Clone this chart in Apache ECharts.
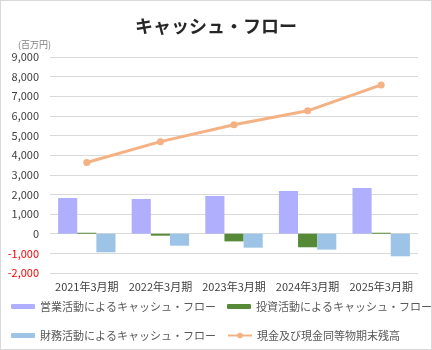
<!DOCTYPE html>
<html><head><meta charset="utf-8">
<script src="https://cdn.jsdelivr.net/npm/echarts@6/dist/echarts.min.js"></script>
<style>
html,body{margin:0;padding:0;background:#fff;}
#wrap{position:absolute;left:0;top:0;width:430px;height:348px;border:1px solid #d9d9d9;}
#c{position:absolute;left:0;top:0;width:432px;height:350px;}
</style></head>
<body><div id="wrap"></div><div id="c"></div>
<script>
const categories = ['2021年3月期','2022年3月期','2023年3月期','2024年3月期','2025年3月期'];
const operating = [1820, 1770, 1920, 2180, 2330];
const investing = [50, -100, -390, -690, 50];
const financing = [-945, -610, -710, -810, -1150];
const cashEnd = [3630, 4690, 5550, 6260, 7580];
const names = ['営業活動によるキャッシュ・フロー','投資活動によるキャッシュ・フロー','財務活動によるキャッシュ・フロー','現金及び現金同等物期末残高'];
const FONT = '"Noto Sans CJK JP", sans-serif';

const chart = echarts.init(document.getElementById('c'));
const legendCommon = {itemWidth:24, itemHeight:5, textStyle:{fontFamily:FONT, fontSize:11, color:'#595959'}, padding:0, itemGap:6};
chart.setOption({
  animation:false,
  textStyle:{fontFamily:FONT},
  title:[{text:'キャッシュ・フロー', left:'center', top:12, textStyle:{fontFamily:FONT, fontSize:18, fontWeight:'bold', color:'#262626'}},
         {text:'(百万円)', left:13, top:35, textStyle:{fontFamily:FONT, fontSize:9, fontWeight:'normal', color:'#7f7f7f'}}],
  grid:{left:50, right:14, top:57, bottom:77, containLabel:false},
  legend:[
    Object.assign({data:[names[0]], left:11, top:301}, legendCommon),
    Object.assign({data:[names[1]], left:227, top:301}, legendCommon),
    Object.assign({data:[names[2]], left:11, top:330}, legendCommon),
    Object.assign({data:[names[3]], left:227, top:330}, legendCommon, {itemHeight:7})
  ],
  xAxis:{type:'category', data:categories, axisTick:{show:false},
    axisLine:{show:false},
    axisLabel:{fontFamily:FONT, fontSize:11, color:'#404040', margin:8, interval:0}},
  yAxis:{type:'value', min:-2000, max:9000, interval:1000,
    axisLine:{show:false}, axisTick:{show:false},
    splitLine:{lineStyle:{color:'#d9d9d9', width:1}},
    axisLabel:{fontFamily:FONT, fontSize:11, margin:11,
      formatter:function(v){const s=Math.abs(v).toLocaleString('en-US'); return v<0?'{n|-'+s+'}':'{p|'+s+'}';},
      rich:{n:{color:'#ff0000', fontFamily:FONT, fontSize:11}, p:{color:'#404040', fontFamily:FONT, fontSize:11}}}},
  series:[
    {name:names[0], type:'bar', data:operating, itemStyle:{color:'#B0AFFD'}, barGap:'0%', barCategoryGap:'22%'},
    {name:names[1], type:'bar', data:investing, itemStyle:{color:'#568A37'}},
    {name:names[2], type:'bar', data:financing, itemStyle:{color:'#9DC3E6'}},
    {name:names[3], type:'line', data:cashEnd, itemStyle:{color:'#F4B183'}, lineStyle:{width:3, color:'#F4B183'},
      symbol:'circle', symbolSize:7, z:5}
  ]
});
</script></body></html>
